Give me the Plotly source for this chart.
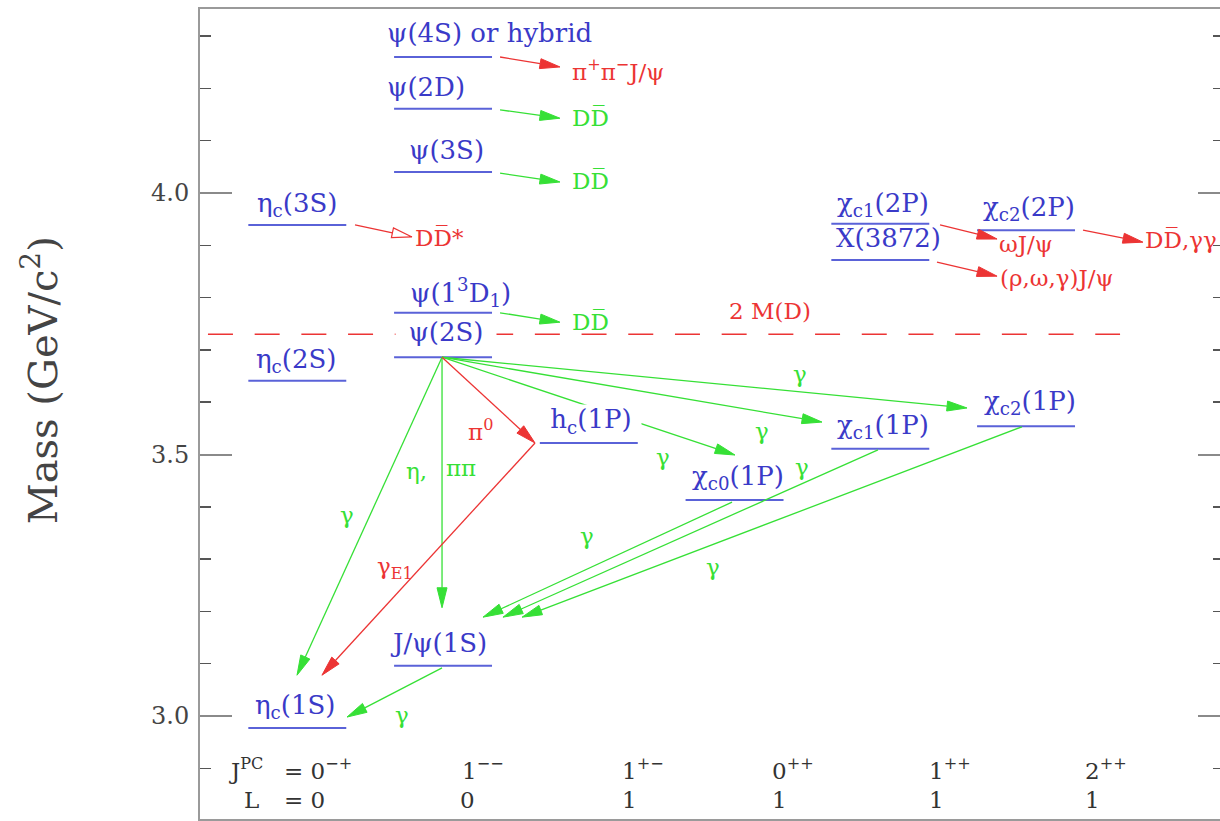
import numpy as np
import plotly.graph_objects as go

# ---------------- data ----------------
# columns: 0 = 0-+, 1 = 1--, 2 = 1+-, 3 = 0++, 4 = 1++, 5 = 2++
level_labels = ["η<sub>c</sub>(1S)", "η<sub>c</sub>(2S)", "η<sub>c</sub>(3S)",
                "J/ψ(1S)", "ψ(2S)", "ψ(1<sup>3</sup>D<sub>1</sub>)", "ψ(3S)", "ψ(2D)",
                "ψ(4S) or hybrid",
                "h<sub>c</sub>(1P)", "χ<sub>c0</sub>(1P)", "χ<sub>c1</sub>(1P)", "χ<sub>c2</sub>(1P)",
                "χ<sub>c1</sub>(2P)", "X(3872)", "χ<sub>c2</sub>(2P)"]
level_col = [0, 0, 0, 1, 1, 1, 1, 1, 1, 2, 3, 4, 5, 4, 4, 5]
level_mass = [2.977, 3.641, 3.939, 3.096, 3.686, 3.771, 4.040, 4.161, 4.260,
              3.522, 3.413, 3.511, 3.554, 3.941, 3.872, 3.929]
# label placement (pixel shifts relative to level centre) and anchor
level_lab_dx = [-2, -1, 0, -5, 3, 17, 3, 0, 0, 2, 3, 3, 4, 3, 8, 3]
level_lab_dy = [22, 20, 20, 23, 25, 20, 22, 22, 24, 22, 23, 22, 24, 19, 22, 22]
level_lab_anchor = ["center"] * 7 + ["left", "left"] + ["center"] * 7
level_lab_bg = [False, False, False, False, True, False, False, False, False,
                True, False, False, False, False, False, False]

# transitions: start (col, mass) -> end (col, mass)
tr_x0 = [1.391, 1.391, 1.391, 0.396, 1.391, 4.410, 4.389, 5.391,
         0.993, 0.993, 0.993, 1.631, 0.993, 0.993, 0.993, 2.983, 3.984, 4.972, 0.993]
tr_y0 = [4.260, 4.159, 4.038, 3.939, 3.771, 3.939, 3.868, 3.929,
         3.686, 3.686, 3.686, 3.522, 3.686, 3.686, 3.686, 3.409, 3.509, 3.553, 3.092]
tr_x1 = [1.802, 1.802, 1.802, 0.787, 1.802, 4.801, 4.801, 5.802,
         -0.002, 0.993, 1.631, 0.169, 3.003, 3.600, 4.595, 1.274, 1.411, 1.542, 0.341]
tr_y1 = [4.241, 4.143, 4.021, 3.916, 3.753, 3.912, 3.841, 3.906,
         3.078, 3.207, 3.522, 3.078, 3.499, 3.562, 3.589, 3.189, 3.189, 3.189, 2.998]
tr_color = ["r", "g", "g", "r", "g", "r", "r", "r",
            "g", "g", "r", "r", "g", "g", "g", "g", "g", "g", "g"]
tr_open = [False, False, False, True] + [False] * 15

# decay product labels (left edge col, centre mass)
prod_text = ["π<sup>+</sup>π<sup>−</sup>J/ψ", "DD̅", "DD̅", "DD̅*", "DD̅",
             "ωJ/ψ", "(ρ,ω,γ)J/ψ", "DD̅,γγ"]
prod_x = [1.871, 1.871, 1.871, 0.795, 1.871, 4.801, 4.808, 5.802]
prod_y = [4.236, 4.143, 4.023, 3.914, 3.753, 3.902, 3.837, 3.910]
prod_color = ["r", "g", "g", "r", "g", "r", "r", "r"]

# transition labels (centre col, centre mass)
tl_text = ["γ", "η,", "ππ", "π<sup>0</sup>", "γ<sub>E1</sub>", "γ", "γ", "γ", "γ", "γ", "γ", "γ"]
tl_x = [0.343, 0.815, 1.124, 1.260, 0.671, 2.510, 3.189, 3.448, 1.988, 3.462, 2.852, 0.718]
tl_y = [3.384, 3.468, 3.474, 3.547, 3.283, 3.495, 3.545, 3.654, 3.344, 3.476, 3.285, 3.002]
tl_color = ["g", "g", "g", "r", "r", "g", "g", "g", "g", "g", "g", "g"]

# open-charm threshold 2 M(D)
thr_mass = 3.730
thr_x = [-0.613, 5.645]
thr_label = "2 M(D)"
thr_label_x = 3.243
thr_label_y = 3.774

# quantum-number row labels
jpc_text = ["J<sup>PC</sup>", "= 0<sup>−+</sup>", "1<sup>−−</sup>", "1<sup>+−</sup>",
            "0<sup>++</sup>", "1<sup>++</sup>", "2<sup>++</sup>"]
jpc_x = [-0.482, -0.105, 1.116, 2.214, 3.243, 4.317, 5.388]
l_text = ["L", "= 0", "0", "1", "1", "1", "1"]
l_x = [-0.379, -0.105, 1.105, 2.214, 3.243, 4.317, 5.388]
jpc_y = 2.898
l_y = 2.840

# ---------------- geometry / style ----------------
X0, X1 = -0.6676, 6.3307
Y0, Y1 = 2.8031, 4.3518
ML, MR, MT, MB = 200, 0, 9, 2
W, H = 1220, 821
PW, PH = W - ML - MR, H - MT - MB
HALF = 0.336

BLUE_TXT = "#3a3ac8"
BLUE_LINE = "#5a62d8"
COL = {"r": "#ec3434", "g": "#36e036"}
FONT = "DejaVu Serif"


def to_px(x, y):
    return (x - X0) / (X1 - X0) * PW, (Y1 - y) / (Y1 - Y0) * PH


def to_data(px, py):
    return X0 + px / PW * (X1 - X0), Y1 - py / PH * (Y1 - Y0)


fig = go.Figure()

# levels
lx, ly = [], []
for c, m in zip(level_col, level_mass):
    lx += [c - HALF, c + HALF, None]
    ly += [m, m, None]
fig.add_trace(go.Scatter(x=lx, y=ly, mode="lines", line=dict(color=BLUE_LINE, width=2),
                         hoverinfo="skip", showlegend=False))

# threshold dashed line
fig.add_trace(go.Scatter(x=thr_x, y=[thr_mass, thr_mass], mode="lines",
                         line=dict(color=COL["r"], width=1.5, dash="25px,21.7px"),
                         hoverinfo="skip", showlegend=False))

# arrows
HL, HW = 20.0, 5.0
lines = {"r": ([], []), "g": ([], [])}
heads = {"r": ([], []), "g": ([], [])}
openh = ([], [])
for x0, y0, x1, y1, c, op in zip(tr_x0, tr_y0, tr_x1, tr_y1, tr_color, tr_open):
    p0 = np.array(to_px(x0, y0))
    p1 = np.array(to_px(x1, y1))
    u = (p1 - p0) / np.linalg.norm(p1 - p0)
    n = np.array([-u[1], u[0]])
    base = p1 - HL * u
    b1 = base + HW * n
    b2 = base - HW * n
    bx, by = to_data(*base)
    lines[c][0].extend([x0, bx, None])
    lines[c][1].extend([y0, by, None])
    pts = [to_data(*p1), to_data(*b1), to_data(*b2), to_data(*p1)]
    tgt = openh if op else heads[c]
    tgt[0].extend([p[0] for p in pts] + [None])
    tgt[1].extend([p[1] for p in pts] + [None])

for c in ("g", "r"):
    fig.add_trace(go.Scatter(x=lines[c][0], y=lines[c][1], mode="lines",
                             line=dict(color=COL[c], width=1.3),
                             hoverinfo="skip", showlegend=False))
    fig.add_trace(go.Scatter(x=heads[c][0], y=heads[c][1], mode="lines", fill="toself",
                             fillcolor=COL[c], line=dict(color=COL[c], width=1),
                             hoverinfo="skip", showlegend=False))
fig.add_trace(go.Scatter(x=openh[0], y=openh[1], mode="lines",
                         line=dict(color=COL["r"], width=1.2),
                         hoverinfo="skip", showlegend=False))

ann = []
# level labels
for t, c, m, dx, dy, anc, bg in zip(level_labels, level_col, level_mass, level_lab_dx,
                                    level_lab_dy, level_lab_anchor, level_lab_bg):
    a = dict(x=(c - HALF) if anc == "left" else c, y=m, xref="x", yref="y", text=t,
             showarrow=False, xanchor=anc, yanchor="middle", xshift=dx + (-9 if anc == "left" else 0),
             yshift=dy, font=dict(family=FONT, size=26, color=BLUE_TXT))
    if bg:
        a.update(bgcolor="white", width=98, height=30)
    ann.append(a)

for t, x, y, c in zip(prod_text, prod_x, prod_y, prod_color):
    ann.append(dict(x=x, y=y, xref="x", yref="y", text=t, showarrow=False,
                    xanchor="left", yanchor="middle",
                    font=dict(family=FONT, size=23, color=COL[c])))

for t, x, y, c in zip(tl_text, tl_x, tl_y, tl_color):
    ann.append(dict(x=x, y=y, xref="x", yref="y", text=t, showarrow=False,
                    xanchor="center", yanchor="middle",
                    font=dict(family=FONT, size=23, color=COL[c])))

ann.append(dict(x=thr_label_x, y=thr_label_y, xref="x", yref="y", text=thr_label,
                showarrow=False, xanchor="center", yanchor="middle",
                font=dict(family=FONT, size=23, color=COL["r"])))

for t, x in zip(jpc_text, jpc_x):
    ann.append(dict(x=x, y=jpc_y, xref="x", yref="y", text=t, showarrow=False,
                    xanchor="left", yanchor="middle",
                    font=dict(family=FONT, size=23, color="#333333")))
for t, x in zip(l_text, l_x):
    ann.append(dict(x=x, y=l_y, xref="x", yref="y", text=t, showarrow=False,
                    xanchor="left", yanchor="middle",
                    font=dict(family=FONT, size=23, color="#333333")))

# y-axis title
ann.append(dict(x=(40 - ML) / PW, y=3.642, xref="paper", yref="y",
                text="Mass (GeV/c<sup>2</sup>)",
                showarrow=False, textangle=-90, xanchor="center", yanchor="middle",
                font=dict(family=FONT, size=40, color="#444444")))

fig.update_layout(
    width=W, height=H,
    margin=dict(l=ML, r=MR, t=MT, b=MB),
    paper_bgcolor="white", plot_bgcolor="white",
    showlegend=False,
    hovermode=False,
    annotations=ann,
    xaxis=dict(range=[X0, X1], showgrid=False, zeroline=False, showticklabels=False,
               ticks="", showline=True, mirror=True, linecolor="#9a9a9a", linewidth=2,
               fixedrange=True),
    yaxis=dict(range=[Y0, Y1], showgrid=False, zeroline=False,
               tickmode="linear", tick0=3.0, dtick=0.5, tickformat=".1f",
               ticks="inside", ticklen=32, tickwidth=2, tickcolor="#8a8a8a",
               minor=dict(ticks="inside", ticklen=11, tickwidth=1.5, tickcolor="#555555",
                          dtick=0.1, tick0=3.0),
               showline=True, linecolor="#9a9a9a", linewidth=2,
               ticklabelstandoff=4,
               tickfont=dict(family=FONT, size=24, color="#444444"),
               fixedrange=True),
    yaxis2=dict(range=[Y0, Y1], overlaying="y", side="right", anchor="x",
                showgrid=False, zeroline=False, showticklabels=False, showline=False,
                tickmode="linear", tick0=3.0, dtick=0.5,
                ticks="inside", ticklen=22, tickwidth=2, tickcolor="#8a8a8a",
                minor=dict(ticks="inside", ticklen=7, tickwidth=1.5, tickcolor="#555555",
                           dtick=0.1, tick0=3.0),
                fixedrange=True),
)
# dummy trace to activate the right-hand axis
fig.add_trace(go.Scatter(x=[None], y=[None], yaxis="y2", showlegend=False, hoverinfo="skip"))

# remove the default page margin so the figure fills the window without scrolling
fig.write_html("out.html",
               config={"displayModeBar": False, "staticPlot": True},
               post_script="document.body.style.margin='0';"
                           "document.body.style.overflow='hidden';")
